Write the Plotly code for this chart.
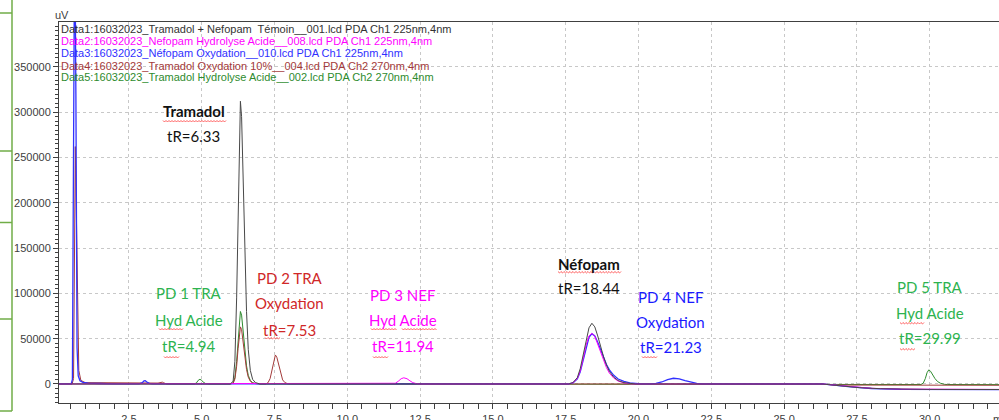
import plotly.graph_objects as go

# ---------------- data (retention time in min, signal in uV) ----------------
# Data1 : Tramadol + Nefopam Témoin (225 nm)
t_data1 = [0.1, 5.98, 6.08, 6.14, 6.20, 6.25, 6.29, 6.33, 6.37, 6.42, 6.48, 6.54, 6.60, 6.67, 6.75, 6.85, 7.0,
           17.6, 17.75, 17.9, 18.0, 18.1, 18.2, 18.3, 18.4, 18.5, 18.6, 18.7, 18.8, 18.9, 19.0, 19.15, 19.3, 19.5, 19.7, 19.9,
           26.3, 26.7, 27.2, 27.6, 28.3, 29.0, 30.0, 32.4]
v_data1 = [0, 0, 3000, 25000, 95000, 190000, 265000, 312000, 295000, 235000, 150000, 80000, 38000, 15000, 5000, 1500, 0,
           0, 1500, 7000, 17000, 33000, 50000, 62000, 67000, 63000, 53000, 41000, 30000, 21000, 14000, 7500, 3800, 1500, 500, 0,
           0, -1500, -3000, -4100, -5200, -5800, -6000, -6100]

# Data2 : Nefopam Hydrolyse Acide (225 nm)
t_data2 = [0.1, 11.55, 11.65, 11.75, 11.85, 11.94, 12.05, 12.15, 12.25, 12.38, 12.5,
           17.6, 17.75, 17.9, 18.0, 18.1, 18.2, 18.3, 18.4, 18.5, 18.6, 18.7, 18.8, 18.9, 19.0, 19.15, 19.3, 19.5, 19.7, 19.9,
           26.3, 27.2, 28.0, 29.0, 32.4]
v_data2 = [0, 0, 800, 3000, 5800, 6800, 5800, 3500, 1500, 300, 0,
           0, 1300, 6000, 14500, 28000, 43000, 53000, 56000, 52500, 44000, 34500, 25500, 18000, 12000, 6500, 3200, 1200, 300, 0,
           0, -2800, -4800, -5600, -6000]

# Data3 : Néfopam Oxydation (225 nm)
t_data3 = [0.1, 0.52, 0.56, 0.60, 0.64, 0.68, 0.72, 0.76, 0.82, 0.92, 1.1, 1.5, 2.0, 2.85, 2.95, 3.02, 3.06, 3.12, 3.2, 3.3,
           17.6, 17.75, 17.9, 18.0, 18.1, 18.2, 18.3, 18.4, 18.5, 18.6, 18.7, 18.8, 18.9, 19.0, 19.15, 19.3, 19.5, 19.7, 19.9, 20.1,
           20.4, 20.6, 20.8, 21.0, 21.2, 21.4, 21.6, 21.8, 22.0, 22.2,
           26.3, 27.2, 28.0, 29.0, 32.4]
v_data3 = [0, 0, 5000, 320000, 520000, 320000, 40000, 9000, 3500, 1800, 1000, 500, 0, 0, 1200, 3400, 3600, 2200, 700, 0,
           0, 1200, 5500, 13500, 26500, 41000, 51500, 55500, 53000, 46000, 37500, 29000, 21500, 15500, 9500, 5500, 2800, 1200, 500, 0,
           0, 600, 2200, 4800, 6300, 5600, 3800, 2000, 700, 0,
           0, -3000, -5000, -5900, -6300]

# Data4 : Tramadol Oxydation 10% (270 nm)
t_data4 = [0.1, 0.55, 0.60, 0.63, 0.66, 0.70, 0.74, 0.78, 0.85, 1.0, 3.5, 3.6, 3.65, 3.7, 3.8,
           5.98, 6.08, 6.14, 6.20, 6.25, 6.29, 6.33, 6.37, 6.42, 6.48, 6.54, 6.60, 6.67, 6.75, 6.85, 7.0,
           7.2, 7.28, 7.35, 7.42, 7.48, 7.53, 7.58, 7.64, 7.71, 7.78, 7.86, 7.95, 8.05,
           26.3, 26.8, 32.4]
v_data4 = [0, 0, 6000, 180000, 262000, 180000, 60000, 15000, 4000, 1500, 1000, 1500, 2000, 1200, 0,
           0, 800, 5500, 19500, 39000, 55000, 63000, 60000, 47500, 30000, 16000, 7500, 3000, 1000, 300, 0,
           0, 1500, 6000, 15000, 26000, 32000, 29500, 21000, 11000, 4500, 1500, 300, 0,
           0, -1200, -1400]

# Data5 : Tramadol Hydrolyse Acide (270 nm)
t_data5 = [0.1, 4.75, 4.82, 4.88, 4.94, 5.0, 5.06, 5.14, 5.25,
           5.98, 6.08, 6.14, 6.20, 6.25, 6.29, 6.33, 6.37, 6.42, 6.48, 6.54, 6.60, 6.67, 6.75, 6.85, 7.0,
           26.3, 27.5, 29.7, 29.78, 29.85, 29.91, 29.97, 30.03, 30.1, 30.18, 30.27, 30.37, 30.5, 30.6, 32.4]
v_data5 = [0, 0, 1200, 4000, 5200, 4000, 1800, 400, 0,
           0, 1000, 7000, 25000, 50000, 70000, 80000, 76000, 60000, 38000, 20000, 9500, 4000, 1300, 400, 0,
           0, -500, -600, 1000, 6000, 12500, 15600, 14000, 10000, 6000, 2700, 800, -400, -600, -700]

legend_lines = [
    "Data1:16032023_Tramadol + Nefopam\u00a0 Témoin__001.lcd PDA Ch1 225nm,4nm",
    "Data2:16032023_Nefopam Hydrolyse Acide__008.lcd PDA Ch1 225nm,4nm",
    "Data3:16032023_Néfopam Oxydation__010.lcd PDA Ch1 225nm,4nm",
    "Data4:16032023_Tramadol Oxydation 10%__004.lcd PDA Ch2 270nm,4nm",
    "Data5:16032023_Tramadol Hydrolyse Acide__002.lcd PDA Ch2 270nm,4nm",
]
legend_colors = ["#333333", "#ff00ff", "#3030ff", "#a33a3a", "#2e8b2e"]

# peak labels: (x, y of each line, lines, colour, bold first line)
peak_labels = [
    (4.72, [301000, 273600], ["Tramadol", "tR=6.33"], "#111111", True),
    (4.55, [100700, 70800, 42000], ["PD 1 TRA", "Hyd Acide", "tR=4.94"], "#2db34f", False),
    (8.02, [117300, 89600, 59700], ["PD 2 TRA", "Oxydation", "tR=7.53"], "#d02828", False),
    (11.90, [98500, 70800, 42000], ["PD 3 NEF", "Hyd Acide", "tR=11.94"], "#ff00ff", False),
    (18.29, [132700, 106200], ["Néfopam", "tR=18.44"], "#111111", True),
    (21.10, [96200, 68600, 40900], ["PD 4 NEF", "Oxydation", "tR=21.23"], "#1a1aff", False),
    (30.00, [107300, 78500, 50900], ["PD 5 TRA", "Hyd Acide", "tR=29.99"], "#2db34f", False),
]

# ---------------- figure ----------------
W, H = 999, 420
ML, MR, MT, MB = 59, 0, 22, 17
X_RANGE = [0.1, 32.38]
Y_RANGE = [-21000, 399500]

fig = go.Figure()
order = [
    (t_data5, v_data5, "#2e8b2e", 1.0),
    (t_data4, v_data4, "#a33a3a", 1.0),
    (t_data3, v_data3, "#3030ff", 1.3),
    (t_data2, v_data2, "#ff00ff", 1.0),
    (t_data1, v_data1, "#484848", 1.0),
]
for t, v, c, w in order:
    fig.add_trace(go.Scatter(x=t, y=v, mode="lines", line=dict(color=c, width=w),
                             hoverinfo="skip", showlegend=False))

def px2paper(x, y):
    return (x - ML) / (W - ML - MR), 1 - (y - MT) / (H - MT - MB)

annotations = []
ys = [29, 41, 53, 65.5, 77.5]
for txt, col, yy in zip(legend_lines, legend_colors, ys):
    px, py = px2paper(59, yy)
    annotations.append(dict(x=px, y=py, xref="paper", yref="paper", text=txt, showarrow=False,
                            xanchor="left", yanchor="middle",
                            font=dict(family="Liberation Sans, Arial", size=11, color=col)))
px, py = px2paper(53, 15)
annotations.append(dict(x=px, y=py, xref="paper", yref="paper", text="uV", showarrow=False,
                        xanchor="left", yanchor="middle",
                        font=dict(family="Liberation Sans, Arial", size=11, color="#404040")))
px, py = px2paper(991, 419)
annotations.append(dict(x=px, y=py, xref="paper", yref="paper", text="min", showarrow=False,
                        xanchor="left", yanchor="middle",
                        font=dict(family="Liberation Sans, Arial", size=11, color="#404040")))

for x, ylist, lines, col, bold in peak_labels:
    for i, (yy, txt) in enumerate(zip(ylist, lines)):
        t = f"<b>{txt}</b>" if (bold and i == 0) else txt
        annotations.append(dict(x=x, y=yy, xref="x", yref="y", text=t, showarrow=False,
                                xanchor="center", yanchor="middle",
                                font=dict(family="Lato", size=15, color=col)))

shapes = []
g = "#70ad47"
x0, y0 = px2paper(12, 0)
x1, y1 = px2paper(12, 411)
shapes.append(dict(type="line", xref="paper", yref="paper", x0=x0, y0=y0, x1=x1, y1=y1,
                   line=dict(color=g, width=1.5)))
for yy in [13, 151, 222.5, 319, 411]:
    a, b = px2paper(0, yy)
    c, d = px2paper(12, yy)
    shapes.append(dict(type="line", xref="paper", yref="paper", x0=a, y0=b, x1=c, y1=d,
                       line=dict(color=g, width=1.5)))

underlines = [(163, 227, 121), (159, 183, 329), (164, 179, 357), (265, 280, 338),
              (371, 397, 329), (402, 437, 329), (373, 388, 357), (558, 622, 272),
              (642, 657, 357), (900, 925, 323), (900, 915, 349)]
for xa, xb, yy in underlines:
    pts = []
    x = xa
    k = 0
    while x <= xb:
        pts.append(px2paper(x, yy + (1 if k % 2 else -0.5)))
        x += 1.5
        k += 1
    path = "M " + " L ".join(f"{p[0]:.5f},{p[1]:.5f}" for p in pts)
    shapes.append(dict(type="path", xref="paper", yref="paper", path=path,
                       line=dict(color="#ff3b3b", width=0.8)))

fig.update_layout(
    width=W, height=H,
    margin=dict(l=ML, r=MR, t=MT, b=MB, pad=0, autoexpand=False),
    paper_bgcolor="white", plot_bgcolor="white",
    showlegend=False,
    annotations=annotations,
    shapes=shapes,
    xaxis=dict(range=X_RANGE, tick0=0, dtick=2.5, tickformat=".1f", automargin=False,
               showgrid=True, gridcolor="#c8c8c8", griddash="dot", gridwidth=1,
               zeroline=False, showline=True, linecolor="#404040", linewidth=1, mirror=True,
               ticks="outside", ticklen=5, tickcolor="#404040", ticklabelstandoff=1,
               minor=dict(dtick=0.5, ticks="outside", ticklen=5, tickcolor="#404040", showgrid=False),
               tickfont=dict(family="Liberation Sans, Arial", size=11, color="#404040")),
    yaxis=dict(range=Y_RANGE, tick0=0, dtick=50000, tickformat="d", automargin=False,
               showgrid=True, gridcolor="#c8c8c8", griddash="dot", gridwidth=1,
               zeroline=False, showline=True, linecolor="#404040", linewidth=1,
               ticks="outside", ticklen=5, tickcolor="#404040",
               minor=dict(dtick=5000, ticks="outside", ticklen=3, tickcolor="#404040", showgrid=False),
               tickfont=dict(family="Liberation Sans, Arial", size=11, color="#404040")),
)

fig.write_html("out.html", config={"displayModeBar": False},
               post_script="document.body.style.margin='0';document.body.style.overflow='hidden';")
